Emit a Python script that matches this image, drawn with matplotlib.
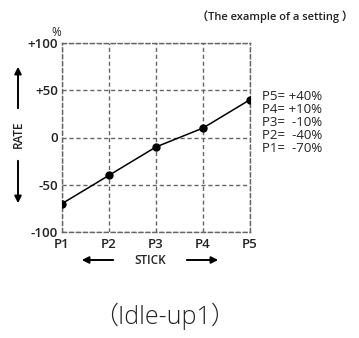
import matplotlib.pyplot as plt
from matplotlib.patches import FancyArrowPatch

# dados do gráfico
pontos = ["P1", "P2", "P3", "P4", "P5"]
taxas = [-70, -40, -10, 10, 40]
marcas_y = [-100, -50, 0, 50, 100]
rotulos_y = ["-100", "-50", "0", "+50", "+100"]
legenda = ["P5= +40%", "P4= +10%", "P3=  -10%", "P2=  -40%", "P1=  -70%"]

plt.rcParams['font.family'] = ['Open Sans', 'Noto Sans CJK JP', 'DejaVu Sans']

fig = plt.figure(figsize=(3.59, 3.38), dpi=100)
ax = fig.add_axes([62 / 359, 1 - 232 / 338, 188 / 359, 189 / 338])

x = list(range(len(pontos)))
ax.plot(x, taxas, color='black', lw=1.1, marker='o', ms=5, zorder=3)

ax.set_xlim(0, 4)
ax.set_ylim(-100, 100)
ax.set_xticks(x)
ax.set_xticklabels(pontos)
ax.set_yticks(marcas_y)
ax.set_yticklabels(rotulos_y)
ax.tick_params(length=0, labelsize=9.5)
ax.tick_params(axis='y', pad=3)
ax.tick_params(axis='x', pad=4)
for t in ax.get_xticklabels() + ax.get_yticklabels():
    t.set_fontweight('semibold')
    t.set_color('#222222')

ax.grid(True, ls=(0, (3, 2)), color='#666666', lw=1)
for s in ax.spines.values():
    s.set_linestyle((0, (3, 2)))
    s.set_color('#666666')
    s.set_linewidth(1)

# símbolo de porcentagem
fig.text(56 / 359, 1 - 33 / 338, "%", fontsize=8.5, ha='center', va='center',
         color='#222222')

# legenda à direita
for i, txt in enumerate(legenda):
    fig.text(262 / 359, 1 - (97 + i * 12.8) / 338, txt, fontsize=9.5,
             ha='left', va='center', color='#222222')

# eixo RATE
fig.text(18 / 359, 1 - 134 / 338, "RATE", rotation=90, fontsize=8.5,
         ha='center', va='center', fontweight='semibold', color='#222222')
seta = dict(arrowstyle='-|>', color='black', lw=1.4, mutation_scale=10)
fig.add_artist(FancyArrowPatch((18 / 359, 1 - 111 / 338), (18 / 359, 1 - 64 / 338),
                               transform=fig.transFigure, **seta))
fig.add_artist(FancyArrowPatch((18 / 359, 1 - 158 / 338), (18 / 359, 1 - 206 / 338),
                               transform=fig.transFigure, **seta))

# eixo STICK
fig.text(150 / 359, 1 - 260 / 338, "STICK", fontsize=8.5,
         ha='center', va='center', fontweight='semibold', color='#222222')
fig.add_artist(FancyArrowPatch((116 / 359, 1 - 260 / 338), (79 / 359, 1 - 260 / 338),
                               transform=fig.transFigure, **seta))
fig.add_artist(FancyArrowPatch((184 / 359, 1 - 260 / 338), (221 / 359, 1 - 260 / 338),
                               transform=fig.transFigure, **seta))

# títulos
fig.text(353 / 359, 1 - 17 / 338, "（The example of a setting ）", fontsize=8,
         ha='right', va='center', fontweight='semibold', color='#222222')
fig.text(165 / 359, 1 - 316 / 338, "（Idle-up1）", fontsize=18,
         ha='center', va='center', fontweight='light', color='#222222')

fig.savefig("out.png", dpi=100)
